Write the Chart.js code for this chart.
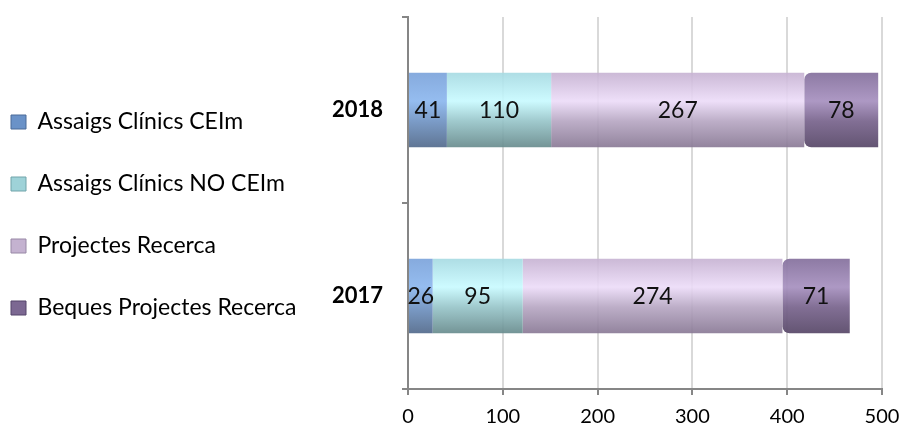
<!DOCTYPE html>
<html>
<head>
<meta charset="utf-8">
<script src="https://cdn.jsdelivr.net/npm/chart.js@4/dist/chart.umd.min.js"></script>
<style>
html,body{margin:0;padding:0;background:#fff;overflow:hidden;}
#wrap{width:903px;height:428px;}
</style>
</head>
<body>
<div id="wrap"><canvas id="c"></canvas></div>
<script>
const categories = ['2018', '2017'];
const seriesNames = ['Assaigs Clínics CEIm', 'Assaigs Clínics NO CEIm', 'Projectes Recerca', 'Beques Projectes Recerca'];
const ceim = [41, 26];
const noCeim = [110, 95];
const projectes = [267, 274];
const beques = [78, 71];
const xTicks = [0, 100, 200, 300, 400, 500];

const gradStops = [
  ['#7aa2dae8', '#8ab6eee8', '#6e92c2e8', '#50688ae8'],
  ['#a6dae2e8', '#c8faffe8', '#96c4c8e8', '#668a8ce8'],
  ['#c6b2d2e8', '#ecdcf8e8', '#b6a6c2e8', '#887894e8'],
  ['#86729ef0', '#a892c0f0', '#7a668ef0', '#5a4a6af0']
];
const legendColors = ['#6a92c8', '#9ed2d8', '#c4b2d0', '#7c6892'];
const legendBorders = ['#4a6a98', '#70a4aa', '#9888a6', '#55456a'];

function makeBg(si) {
  return function (c) {
    const chart = c.chart;
    const y = chart.scales && chart.scales.y;
    if (c.type !== 'data' || !y || !chart.chartArea) return gradStops[si][1];
    const center = y.getPixelForValue(c.dataIndex);
    const half = Math.abs(y.getPixelForValue(1) - y.getPixelForValue(0)) * 0.4 / 2;
    const g = chart.ctx.createLinearGradient(0, center - half, 0, center + half);
    const s = gradStops[si];
    g.addColorStop(0, s[0]);
    g.addColorStop(0.38, s[1]);
    g.addColorStop(0.65, s[2]);
    g.addColorStop(1, s[3]);
    return g;
  };
}

const valueLabels = {
  id: 'valueLabels',
  afterDatasetsDraw(chart) {
    const ctx = chart.ctx;
    ctx.save();
    ctx.font = '23px Lato';
    ctx.fillStyle = '#111';
    ctx.textAlign = 'center';
    ctx.textBaseline = 'middle';
    chart.data.datasets.forEach((ds, di) => {
      const meta = chart.getDatasetMeta(di);
      meta.data.forEach((el, i) => {
        const p = el.getProps(['x', 'y', 'base'], true);
        ctx.fillText(String(ds.data[i]), (p.x + p.base) / 2, p.y + 1);
      });
    });
    ctx.restore();
  }
};

const seriesData = [ceim, noCeim, projectes, beques];
const datasets = seriesData.map((d, i) => ({
  label: seriesNames[i],
  data: d,
  backgroundColor: makeBg(i),
  borderWidth: 0,
  borderRadius: i === 3 ? {topLeft: 7, bottomLeft: 7, topRight: 0, bottomRight: 0} : 0,
  borderSkipped: false,
  barPercentage: 0.4,
  categoryPercentage: 1.0
}));

new Chart(document.getElementById('c'), {
  type: 'bar',
  data: { labels: categories, datasets: datasets },
  plugins: [valueLabels],
  options: {
    indexAxis: 'y',
    responsive: true,
    maintainAspectRatio: false,
    animation: false,
    layout: { padding: { left: -28, right: 21, top: 2, bottom: 0 } },
    plugins: {
      tooltip: { enabled: false },
      legend: {
        position: 'left',
        align: 'center',
        maxWidth: 420,
        labels: {
          font: { family: 'Lato', size: 23 },
          color: '#000',
          boxWidth: 15,
          boxHeight: 14,
          padding: 39,
          generateLabels(chart) {
            return chart.data.datasets.map((ds, i) => ({
              text: ds.label,
              fillStyle: legendColors[i],
              strokeStyle: legendBorders[i],
              lineWidth: 1,
              hidden: false,
              datasetIndex: i,
              fontColor: '#000'
            }));
          }
        }
      }
    },
    scales: {
      x: {
        stacked: true,
        min: 0,
        max: 500,
        afterBuildTicks(scale) { scale.ticks = xTicks.map(v => ({ value: v })); },
        afterFit(scale) { scale.height = 39; scale.paddingLeft = 0; scale.paddingRight = 0; },
        grid: { color: '#d9d9d9', lineWidth: 2, tickColor: '#868686', tickLength: 6 },
        border: { color: '#868686', width: 2 },
        ticks: { font: { family: 'Lato', size: 20 }, color: '#000', padding: 10 }
      },
      y: {
        stacked: true,
        afterFit(scale) {
          const lw = scale.chart.legend ? scale.chart.legend.width : 0;
          scale.width = 436 - lw;
          scale.paddingTop = 17;
          scale.paddingBottom = 0;
        },
        grid: { drawOnChartArea: false, tickColor: '#868686', tickLength: 6, lineWidth: 2, offset: true },
        border: { color: '#868686', width: 2 },
        ticks: { font: { family: 'Lato', size: 22, weight: 'bold' }, color: '#000', padding: 19 }
      }
    }
  }
});
</script>
</body>
</html>
